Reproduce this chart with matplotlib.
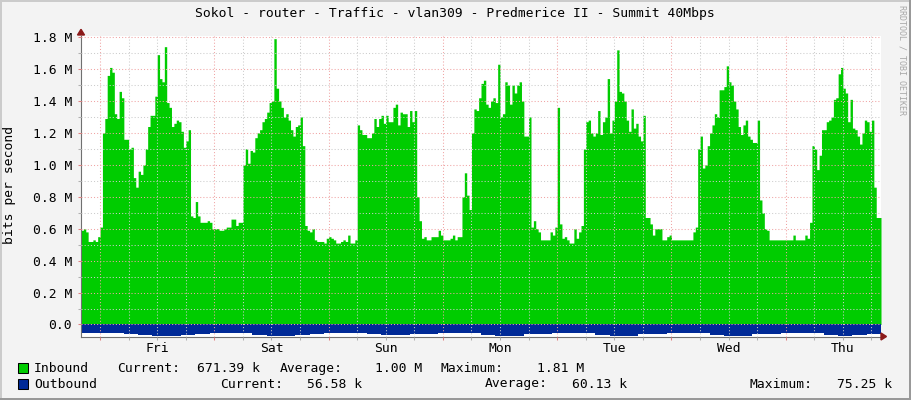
import numpy as np
import matplotlib.pyplot as plt
from matplotlib.ticker import MultipleLocator, FuncFormatter, NullFormatter
from matplotlib.patches import Rectangle, Polygon

plt.rcParams['font.family'] = ['DejaVu Sans Mono', 'DejaVu Sans']

W, H = 911, 400
FONT = 9.4
GREEN = '#00CC00'
BLUE = '#002A97'
MGRID = '#F0A4A4'
GRID = '#CCCCCC'

title = 'Sokol - router - Traffic - vlan309 - Predmerice II - Summit 40Mbps'
day_names = ['Fri', 'Sat', 'Sun', 'Mon', 'Tue', 'Wed', 'Thu']

# inbound traffic in Mbit/s, one value per 30 min, starting Thu 20:00
inbound = [
    0.59, 0.60, 0.58, 0.52, 0.52, 0.53, 0.52, 0.55, 0.61, 1.20,
    1.29, 1.56, 1.61, 1.58, 1.32, 1.29, 1.46, 1.42, 1.16, 1.16,
    1.10, 1.11, 0.92, 0.86, 0.96, 0.94, 1.00, 1.10, 1.24, 1.31,
    1.31, 1.43, 1.69, 1.54, 1.52, 1.74, 1.39, 1.36, 1.24, 1.26,
    1.28, 1.27, 1.21, 1.11, 1.15, 1.22, 0.68, 0.67, 0.77, 0.68,
    0.64, 0.64, 0.64, 0.65, 0.64, 0.60, 0.60, 0.60, 0.59, 0.59,
    0.60, 0.61, 0.61, 0.66, 0.66, 0.62, 0.64, 0.64, 1.00, 1.10,
    1.01, 1.09, 1.08, 1.17, 1.20, 1.22, 1.27, 1.29, 1.33, 1.39,
    1.40, 1.79, 1.48, 1.40, 1.36, 1.30, 1.32, 1.28, 1.22, 1.18,
    1.24, 1.25, 1.30, 1.12, 0.62, 0.59, 0.58, 0.60, 0.53, 0.52,
    0.52, 0.52, 0.51, 0.54, 0.55, 0.54, 0.53, 0.51, 0.51, 0.52,
    0.53, 0.52, 0.56, 0.51, 0.51, 0.53, 1.25, 1.22, 1.19, 1.19,
    1.17, 1.17, 1.20, 1.29, 1.24, 1.29, 1.31, 1.26, 1.31, 1.27,
    1.27, 1.36, 1.38, 1.25, 1.33, 1.32, 1.32, 1.24, 1.34, 1.27,
    1.34, 0.80, 0.65, 0.54, 0.55, 0.53, 0.53, 0.55, 0.55, 0.55,
    0.59, 0.56, 0.53, 0.53, 0.53, 0.54, 0.56, 0.53, 0.55, 0.55,
    0.80, 0.95, 0.81, 0.72, 1.20, 1.35, 1.34, 1.42, 1.51, 1.53,
    1.38, 1.36, 1.40, 1.42, 1.39, 1.63, 1.30, 1.32, 1.52, 1.50,
    1.38, 1.50, 1.45, 1.50, 1.52, 1.40, 1.18, 1.18, 1.30, 0.61,
    0.65, 0.60, 0.58, 0.53, 0.53, 0.53, 0.53, 0.58, 0.56, 0.61,
    1.36, 0.63, 0.54, 0.55, 0.53, 0.51, 0.51, 0.60, 0.54, 0.58,
    0.62, 1.10, 1.27, 1.28, 1.20, 1.18, 1.20, 1.34, 1.19, 1.27,
    1.30, 1.54, 1.20, 1.28, 1.40, 1.72, 1.46, 1.45, 1.40, 1.28,
    1.21, 1.35, 1.23, 1.26, 1.18, 1.15, 1.31, 0.67, 0.67, 0.63,
    0.56, 0.60, 0.60, 0.60, 0.53, 0.53, 0.55, 0.56, 0.53, 0.53,
    0.53, 0.53, 0.53, 0.53, 0.53, 0.53, 0.53, 0.58, 0.61, 1.10,
    1.18, 0.98, 1.00, 1.12, 1.20, 1.25, 1.32, 1.30, 1.47, 1.47,
    1.49, 1.62, 1.52, 1.50, 1.40, 1.35, 1.24, 1.19, 1.25, 1.28,
    1.18, 1.16, 1.14, 1.14, 1.28, 0.78, 0.70, 0.60, 0.59, 0.53,
    0.53, 0.53, 0.53, 0.53, 0.53, 0.53, 0.53, 0.53, 0.53, 0.56,
    0.53, 0.53, 0.53, 0.53, 0.56, 0.54, 0.64, 1.12, 1.10, 0.97,
    1.06, 1.22, 1.22, 1.27, 1.28, 1.30, 1.41, 1.42, 1.57, 1.61,
    1.48, 1.45, 1.27, 1.41, 1.23, 1.22, 1.18, 1.13, 1.20, 1.28,
    1.27, 1.21, 1.28, 0.86, 0.67, 0.67,
]

# outbound traffic in kbit/s, one value per 3 h, starting Thu 20:00
outbound = [
    56, 55, 54, 57, 66, 74, 70, 63, 58,
    55, 54, 55, 64, 73, 70, 63, 58,
    55, 53, 54, 60, 66, 67, 62, 57,
    55, 53, 55, 64, 70, 69, 61, 57,
    55, 54, 56, 65, 72, 70, 62, 58,
    55, 53, 56, 66, 75, 70, 62, 57,
    55, 54, 56, 65, 71, 66, 57,
]

series_names = ['Inbound', 'Outbound']
series_colors = [GREEN, BLUE]
stat_labels = [
    [('Current:', 116.7), ('Average:', 279.3), ('Maximum:', 440.7)],
    [('Current:', 220.0), ('Average:', 485.0), ('Maximum:', 750.0)],
]
stat_values = [
    [('671.39 k', 196.7), ('1.00 M', 375.0), ('1.81 M', 537.3)],
    [('56.58 k', 307.3), ('60.13 k', 572.3), ('75.25 k', 836.7)],
]
row_y = [368.3, 384.0]


def fx(x):
    return x / W


def fy(y):
    """ pixel row counted from the top -> figure fraction """
    return 1 - y / H


def day_label(v, pos):
    h = int(round(v))
    if h % 24 == 12 and 0 <= h // 24 < len(day_names):
        return day_names[h // 24]
    return ''


def y_label(v, pos):
    if abs(v) < 1:
        return '0.0'
    return '%.1f M' % (v / 1e6)


fig = plt.figure(figsize=(W / 100, H / 100), dpi=100, facecolor='#F3F3F3')

# plot area: x 81..881 px, y 35.5..336.5 px
ax = fig.add_axes([fx(81), fy(336.5), 800 / W, 301 / H])
ax.set_facecolor('white')

t_in = -4 + 0.5 * np.arange(len(inbound) + 1)
v_in = np.append(inbound, inbound[-1]) * 1e6
t_out = -4 + 3.0 * np.arange(len(outbound) + 1)
v_out = -np.append(outbound, outbound[-1]) * 1e3

ax.fill_between(t_in, 0, v_in, step='post', color=GREEN, lw=0)
ax.fill_between(t_out, 0, v_out, step='post', color=BLUE, lw=0)

ax.set_xlim(-4, 164)
ax.set_ylim(-75250, 1.81e6)

ax.xaxis.set_major_locator(MultipleLocator(24))
ax.xaxis.set_minor_locator(MultipleLocator(6))
ax.xaxis.set_major_formatter(NullFormatter())
ax.xaxis.set_minor_formatter(FuncFormatter(day_label))
ax.yaxis.set_major_locator(MultipleLocator(200000))
ax.yaxis.set_minor_locator(MultipleLocator(100000))
ax.yaxis.set_major_formatter(FuncFormatter(y_label))

ax.set_axisbelow(False)
ax.grid(True, which='major', color=MGRID, linestyle=(0, (1, 2)), lw=0.75)
ax.grid(True, which='minor', color=GRID, linestyle=(0, (1, 2)), lw=0.75)

for s in ['top', 'right']:
    ax.spines[s].set_visible(False)
for s in ['left', 'bottom']:
    ax.spines[s].set_color('#707070')
    ax.spines[s].set_linewidth(0.8)

ax.tick_params(which='major', direction='out', length=2.2, width=0.75,
               color='#E08080', labelsize=FONT, pad=4.3)
ax.tick_params(which='minor', direction='out', length=2.2, width=0.75,
               color='#B0B0B0', labelsize=FONT)
ax.tick_params(axis='x', which='minor', pad=1.5)

# axis arrows
fig.add_artist(Polygon([(fx(77.5), fy(35)), (fx(84.5), fy(35)), (fx(81), fy(29.3))],
                       closed=True, color='#8B1A1A', transform=fig.transFigure))
fig.add_artist(Polygon([(fx(881), fy(333)), (fx(881), fy(340)), (fx(886.5), fy(336.5))],
                       closed=True, color='#8B1A1A', transform=fig.transFigure))

fig.text(fx(455), fy(14), title, ha='center', va='center', fontsize=FONT)
fig.text(fx(10), fy(185), 'bits per second', rotation=90, ha='center',
         va='center', fontsize=FONT)
fig.text(fx(902), fy(5), 'RRDTOOL / TOBI OETIKER', rotation=270, ha='center',
         va='top', fontsize=6, color='#A8A8A8')

for i in range(2):
    y = row_y[i]
    fig.add_artist(Rectangle((fx(17.5), fy(y + 5)), 10 / W, 10 / H,
                             facecolor=series_colors[i], edgecolor='black',
                             lw=0.75, transform=fig.transFigure))
    fig.text(fx(34), fy(y), series_names[i], va='center', fontsize=FONT)
    for txt, x in stat_labels[i] + stat_values[i]:
        fig.text(fx(x), fy(y), txt, va='center', fontsize=FONT)

# 3d frame around the image
fig.add_artist(Rectangle((0, fy(2)), 1, 2 / H, color='#CBCBCB', lw=0,
                         transform=fig.transFigure))
fig.add_artist(Rectangle((0, 0), 2 / W, 1, color='#CBCBCB', lw=0,
                         transform=fig.transFigure))
fig.add_artist(Rectangle((fx(909), 0), 2 / W, 1, color='#999999', lw=0,
                         transform=fig.transFigure))
fig.add_artist(Rectangle((0, 0), 1, 2.3 / H, color='#999999', lw=0,
                         transform=fig.transFigure))

plt.savefig('out.png', dpi=100, facecolor=fig.get_facecolor())
